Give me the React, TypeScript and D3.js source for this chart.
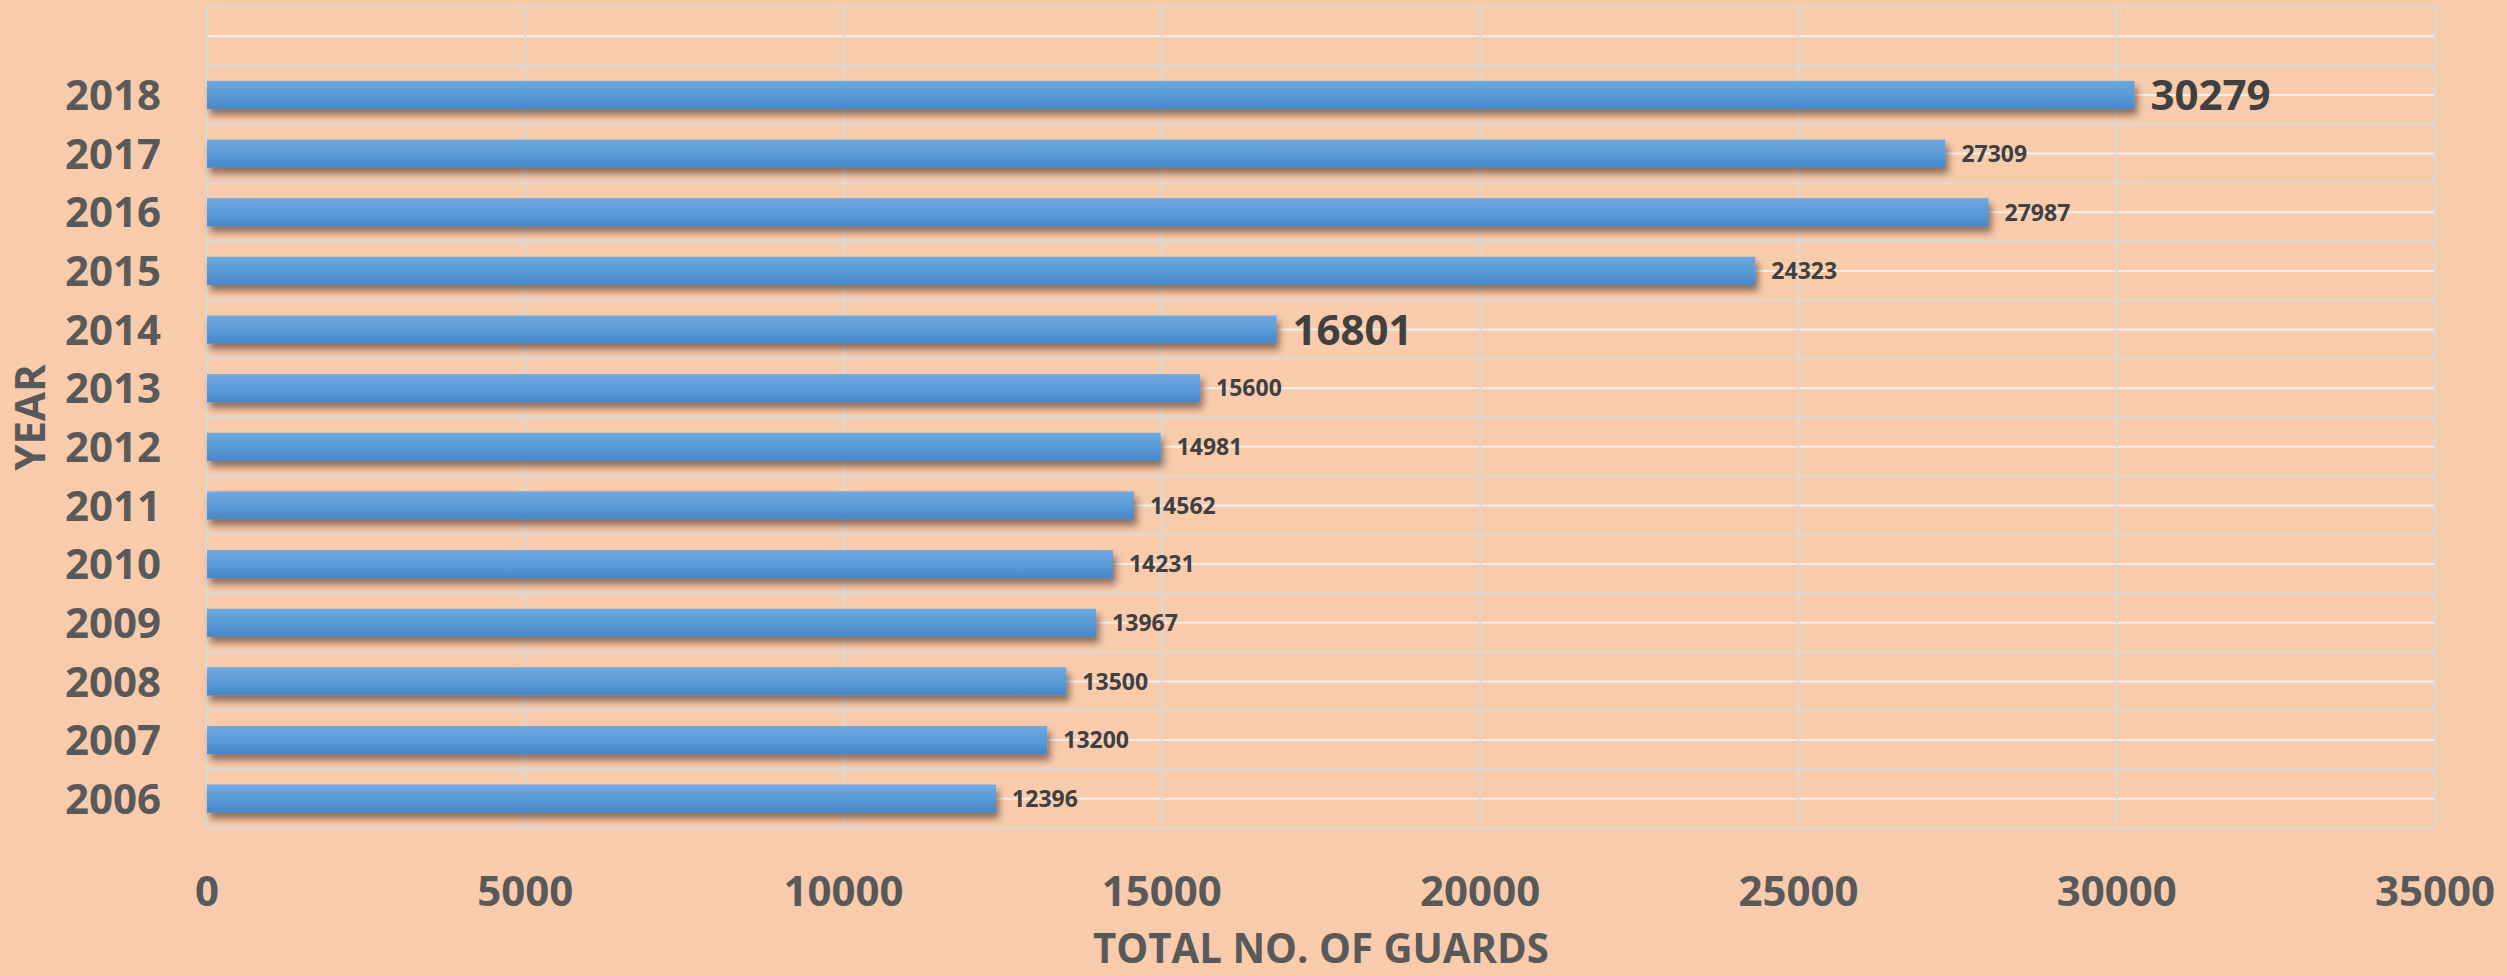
import React, { useEffect, useRef } from 'react';
import * as d3 from 'd3';

const years = ['2018', '2017', '2016', '2015', '2014', '2013', '2012', '2011', '2010', '2009', '2008', '2007', '2006'];
const guards = [30279, 27309, 27987, 24323, 16801, 15600, 14981, 14562, 14231, 13967, 13500, 13200, 12396];
const bigLabels = ['2018', '2014'];
const xTicks = [0, 5000, 10000, 15000, 20000, 25000, 30000, 35000];

const App = () => {
  const svgRef = useRef(null);

  useEffect(() => {
    const svg = d3.select(svgRef.current);
    svg.selectAll('*').remove();

    const W = 2507, H = 976;
    const left = 207, right = 2435, top = 7, bottom = 828;
    const font = '"Open Sans", "DejaVu Sans", sans-serif';

    svg.append('rect').attr('width', W).attr('height', H).attr('fill', '#F8CBAD');

    const defs = svg.append('defs');
    const grad = defs.append('linearGradient').attr('id', 'barGrad')
      .attr('x1', 0).attr('y1', 0).attr('x2', 0).attr('y2', 1);
    grad.append('stop').attr('offset', '0%').attr('stop-color', '#6FA8DE');
    grad.append('stop').attr('offset', '50%').attr('stop-color', '#5B9BD8');
    grad.append('stop').attr('offset', '100%').attr('stop-color', '#4587C8');

    const shadow = defs.append('filter').attr('id', 'shadow')
      .attr('x', '-5%').attr('y', '-50%').attr('width', '110%').attr('height', '220%');
    shadow.append('feDropShadow')
      .attr('dx', 3).attr('dy', 6).attr('stdDeviation', 3.5)
      .attr('flood-color', '#3a2418').attr('flood-opacity', 0.55);

    // one empty slot above 2018, like the source chart
    const y = d3.scaleBand()
      .domain(['', ...years])
      .range([top, bottom])
      .paddingInner(0.52)
      .paddingOuter(0.26);
    const step = y.step();

    const x = d3.scaleLinear().domain([0, 35000]).range([left, right]);

    const grid = svg.append('g');
    // white lines through each slot centre
    grid.selectAll('.mid')
      .data(['', ...years])
      .enter().append('line')
      .attr('x1', left).attr('x2', right)
      .attr('y1', d => y(d) + y.bandwidth() / 2)
      .attr('y2', d => y(d) + y.bandwidth() / 2)
      .attr('stroke', '#F4EDE8').attr('stroke-width', 2);
    // gray lines at slot boundaries
    grid.selectAll('.edge')
      .data(d3.range(15))
      .enter().append('line')
      .attr('x1', left).attr('x2', right)
      .attr('y1', i => top + i * step).attr('y2', i => top + i * step)
      .attr('stroke', '#D9D9D9').attr('stroke-width', 2);
    grid.selectAll('.vert')
      .data(xTicks)
      .enter().append('line')
      .attr('x1', d => x(d)).attr('x2', d => x(d))
      .attr('y1', top).attr('y2', bottom)
      .attr('stroke', '#D9D9D9').attr('stroke-width', 2);

    svg.append('g').selectAll('rect')
      .data(years)
      .enter().append('rect')
      .attr('x', left)
      .attr('y', (d) => y(d))
      .attr('width', (d, i) => x(guards[i]) - left)
      .attr('height', y.bandwidth())
      .attr('fill', 'url(#barGrad)')
      .attr('filter', 'url(#shadow)');

    svg.append('g').selectAll('text')
      .data(years)
      .enter().append('text')
      .attr('x', (d, i) => x(guards[i]) + 16)
      .attr('y', d => y(d) + y.bandwidth() / 2)
      .attr('dy', '0.36em')
      .attr('font-family', font)
      .attr('font-weight', 700)
      .attr('font-size', d => bigLabels.includes(d) ? 42 : 23)
      .attr('fill', '#404040')
      .text((d, i) => guards[i]);

    svg.append('g').selectAll('text')
      .data(years)
      .enter().append('text')
      .attr('x', 161)
      .attr('y', d => y(d) + y.bandwidth() / 2)
      .attr('dy', '0.36em')
      .attr('text-anchor', 'end')
      .attr('font-family', font)
      .attr('font-weight', 700)
      .attr('font-size', 42)
      .attr('fill', '#595959')
      .text(d => d);

    svg.append('g').selectAll('text')
      .data(xTicks)
      .enter().append('text')
      .attr('x', d => x(d))
      .attr('y', 906)
      .attr('text-anchor', 'middle')
      .attr('font-family', font)
      .attr('font-weight', 700)
      .attr('font-size', 42)
      .attr('fill', '#595959')
      .text(d => d);

    svg.append('text')
      .attr('x', (left + right) / 2)
      .attr('y', 963)
      .attr('text-anchor', 'middle')
      .attr('font-family', font)
      .attr('font-weight', 700)
      .attr('font-size', 41)
      .attr('textLength', 456)
      .attr('lengthAdjust', 'spacingAndGlyphs')
      .attr('fill', '#595959')
      .text('TOTAL NO. OF GUARDS');

    svg.append('text')
      .attr('transform', `translate(45,${(top + bottom) / 2}) rotate(-90)`)
      .attr('text-anchor', 'middle')
      .attr('font-family', font)
      .attr('font-weight', 700)
      .attr('font-size', 42)
      .attr('fill', '#595959')
      .text('YEAR');
  }, []);

  return <svg ref={svgRef} width="2507" height="976" style={{ position: 'absolute', left: 0, top: 0 }}></svg>;
};

export default App;
